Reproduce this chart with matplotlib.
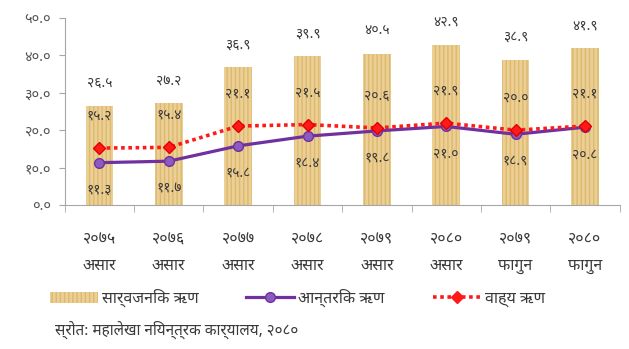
import numpy as np
import matplotlib
matplotlib.use("Agg")
import matplotlib.pyplot as plt
from matplotlib.ticker import FuncFormatter
from matplotlib.lines import Line2D
from matplotlib.patches import Patch

plt.rcParams['font.family'] = ['Noto Sans Devanagari', 'Annapurna SIL', 'DejaVu Sans']

# ऋण (प्रतिशत, कुल गार्हस्थ्य उत्पादनको अनुपातमा)
years = ["२०७५", "२०७६", "२०७७", "२०७८", "२०७९", "२०८०", "२०७९", "२०८०"]
months = ["असार", "असार", "असार", "असार", "असार", "असार", "फागुन", "फागुन"]
total_debt = [26.5, 27.2, 36.9, 39.9, 40.5, 42.9, 38.9, 41.9]
internal_debt = [11.3, 11.7, 15.8, 18.4, 19.8, 21.0, 18.9, 20.8]
external_debt = [15.2, 15.4, 21.1, 21.5, 20.6, 21.9, 20.0, 21.1]

DIGITS = str.maketrans("0123456789", "०१२३४५६७८९")

def nep(v):
    return ("%.1f" % v).translate(DIGITS)

txt = "#3A3A3A"
grey = "#A6A6A6"
bar_col, bar_hatch = "#EBCF94", "#DDB96F"
x = np.arange(len(years))

fig = plt.figure(figsize=(6.29, 3.49), dpi=100)
ax = fig.add_axes([0.103, 0.413, 0.882, 0.535])

ax.bar(x, total_debt, width=0.4, color=bar_col, edgecolor=bar_hatch,
       hatch="||||", linewidth=0, zorder=1)
ax.plot(x, internal_debt, color="#7030A0", lw=2.3, marker="o", ms=7,
        mfc="#8C5BBE", mec="#7030A0", zorder=3)
ax.plot(x, external_debt, color="#FF1A1A", lw=2.6, ls=(0, (1, 1)), marker="D",
        ms=6, mfc="#FF1A1A", mec="#E00000", zorder=4)

for i in range(len(x)):
    ax.annotate(nep(total_debt[i]), (x[i], total_debt[i]), xytext=(0, 16),
                textcoords="offset points", ha="center", va="center",
                fontsize=10, color=txt)
    ax.annotate(nep(external_debt[i]), (x[i], external_debt[i]), xytext=(0, 23),
                textcoords="offset points", ha="center", va="center",
                fontsize=10, color=txt)
    ax.annotate(nep(internal_debt[i]), (x[i], internal_debt[i]), xytext=(0, -20),
                textcoords="offset points", ha="center", va="center",
                fontsize=10, color=txt)

ax.set_xlim(-0.5, len(x) - 0.5)
ax.set_ylim(0, 50)
ax.set_yticks(np.arange(0, 51, 10))
ax.yaxis.set_major_formatter(FuncFormatter(lambda v, p: nep(v)))
ax.set_xticks(x)
ax.set_xticklabels([y + "\n" + m for y, m in zip(years, months)], fontsize=11.5,
                   color=txt, linespacing=1.85)
ax.set_xticks(np.arange(-0.5, len(x), 1), minor=True)
ax.tick_params(axis="x", which="major", length=0, pad=19)
ax.tick_params(axis="x", which="minor", length=5, color=grey, direction="out")
ax.tick_params(axis="y", length=4, color=grey, labelsize=10.5, labelcolor="#555555",
               pad=6)
for s in ["top", "right"]:
    ax.spines[s].set_visible(False)
ax.spines["left"].set_color(grey)
ax.spines["bottom"].set_color(grey)

handles = [
    Patch(facecolor=bar_col, edgecolor=bar_hatch, hatch="||||", linewidth=0),
    Line2D([], [], color="#7030A0", lw=2.3, marker="o", ms=7, mfc="#8C5BBE", mec="#7030A0"),
    Line2D([], [], color="#FF1A1A", lw=2.6, ls=(0, (1, 1)), marker="D", ms=6, mfc="#FF1A1A"),
]
labels = ["सार्वजनिक ऋण", "आन्तरिक ऋण", "वाह्य ऋण"]
fig.legend(handles, labels, loc="center left", bbox_to_anchor=(0.0795, 0.146), ncol=3,
           frameon=False, fontsize=11.5, handlelength=3.0, columnspacing=3.0,
           handletextpad=0.25, borderpad=0, borderaxespad=0, labelcolor=txt)

fig.text(0.087, 0.054, "स्रोत: महालेखा नियन्त्रक कार्यालय, २०८०", fontsize=11,
         color=txt, va="center")

fig.savefig("out.png", dpi=100)
